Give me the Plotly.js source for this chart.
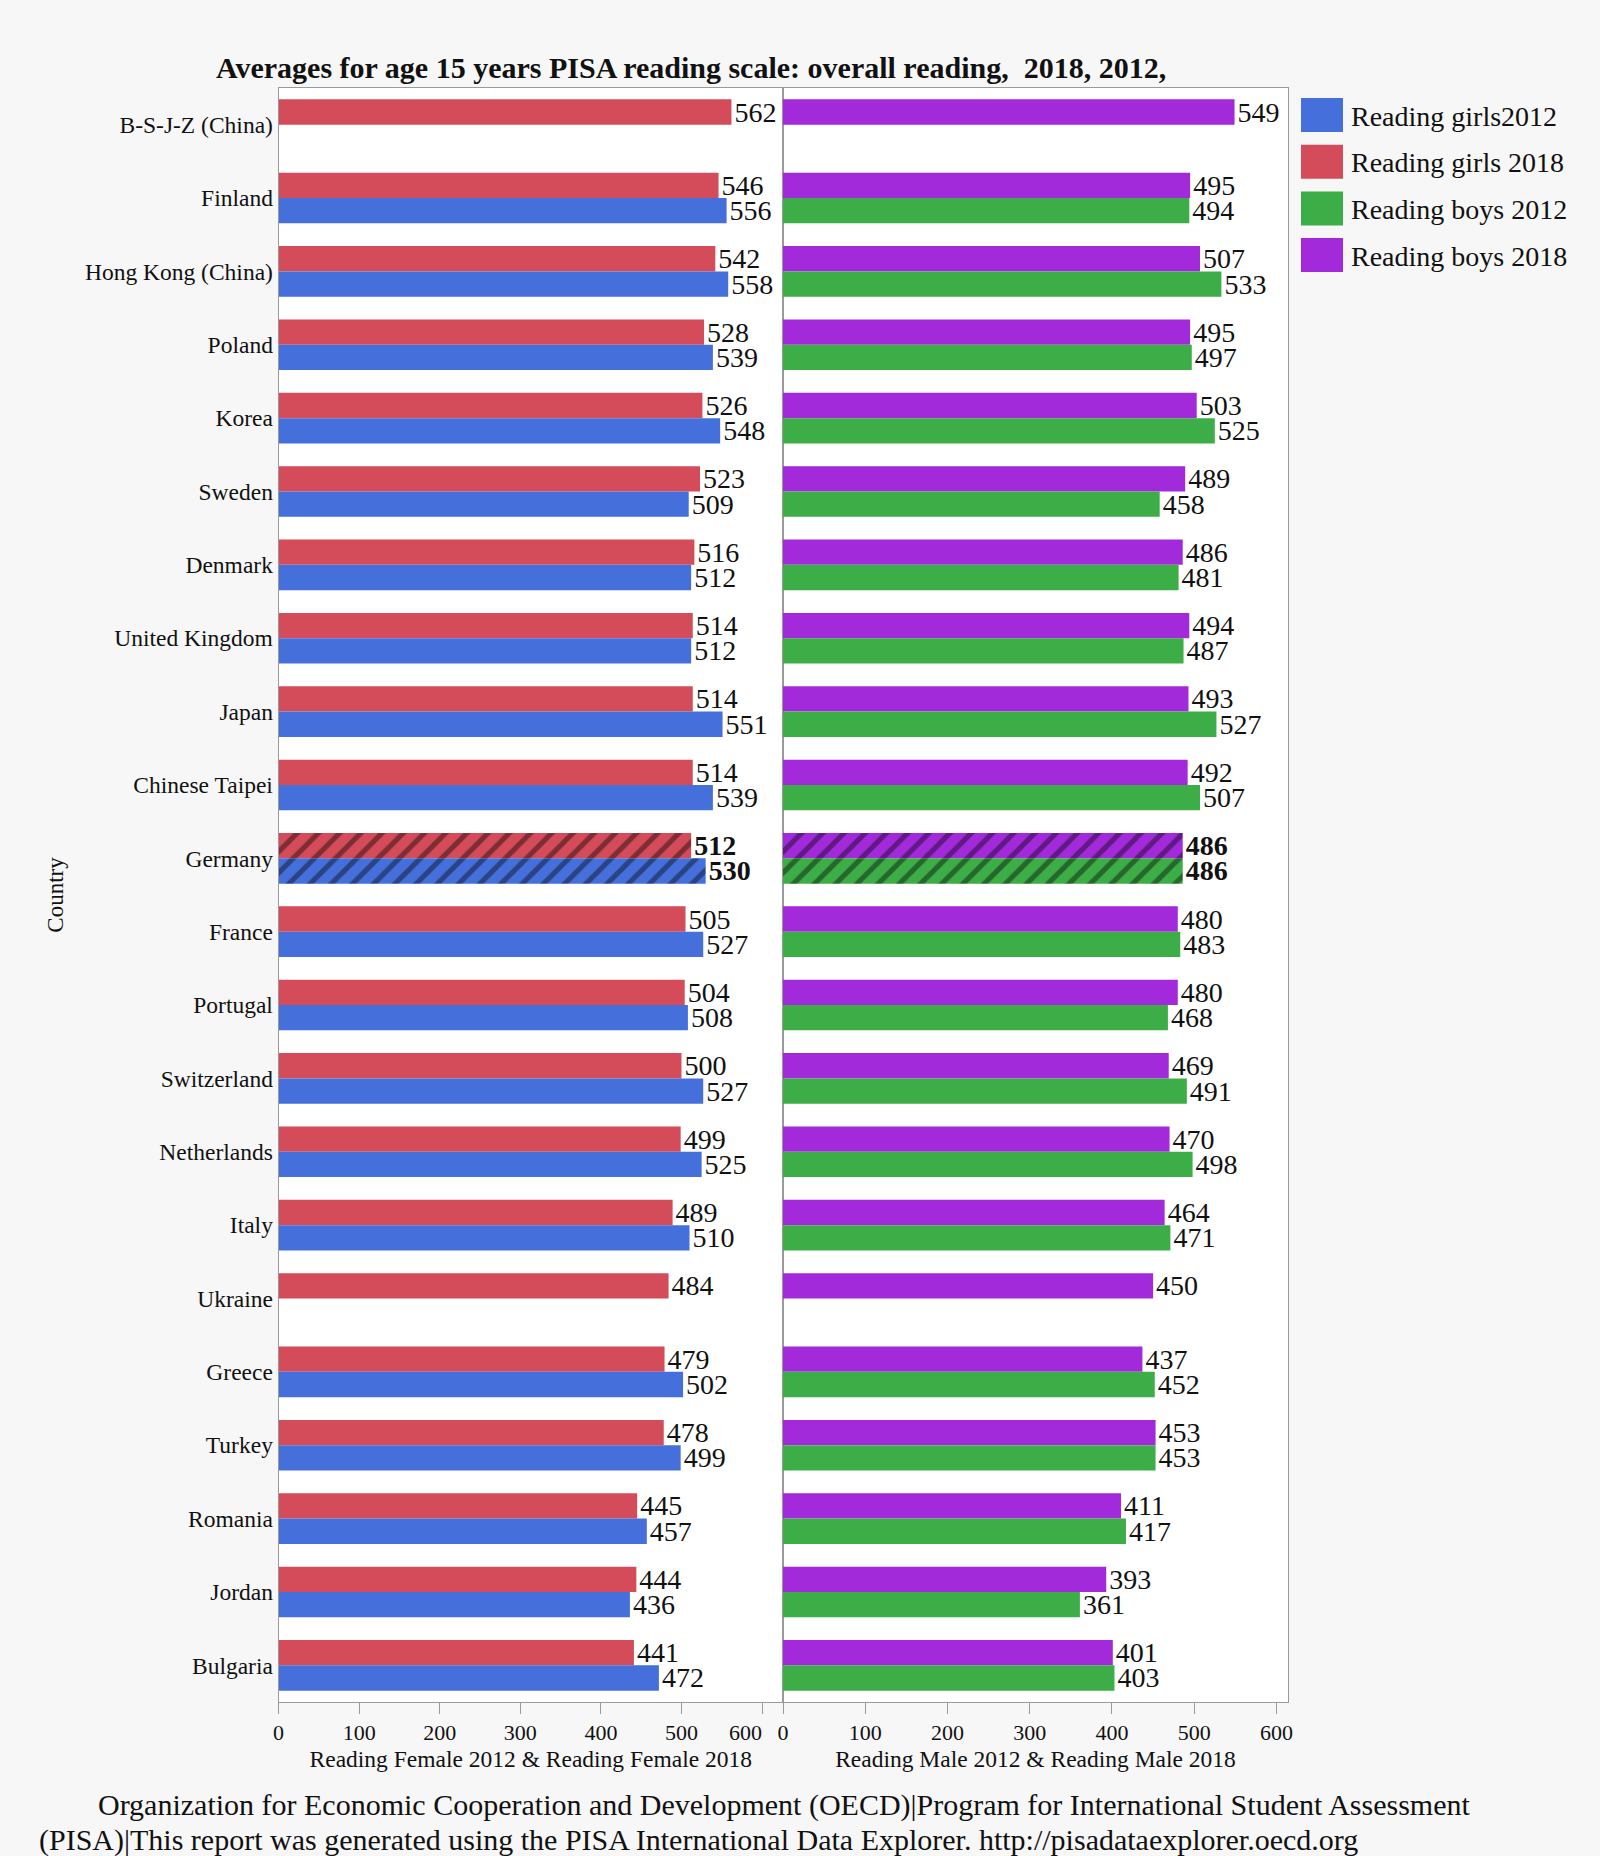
<!DOCTYPE html>
<html>
<head>
<meta charset="utf-8">
<script src="https://cdn.plot.ly/plotly-3.0.1.min.js"></script>
<style>
html,body{margin:0;padding:0;background:#f7f7f7;}
#chart{width:1600px;height:1856px;}
</style>
</head>
<body>
<div id="chart"></div>
<script>
// ---- data ----
const countries = ["B-S-J-Z (China)","Finland","Hong Kong (China)","Poland","Korea","Sweden","Denmark","United Kingdom","Japan","Chinese Taipei","Germany","France","Portugal","Switzerland","Netherlands","Italy","Ukraine","Greece","Turkey","Romania","Jordan","Bulgaria"];
const girls2018 = [562,546,542,528,526,523,516,514,514,514,512,505,504,500,499,489,484,479,478,445,444,441];
const girls2012 = [null,556,558,539,548,509,512,512,551,539,530,527,508,527,525,510,null,502,499,457,436,472];
const boys2018  = [549,495,507,495,503,489,486,494,493,492,486,480,480,469,470,464,450,437,453,411,393,401];
const boys2012  = [null,494,533,497,525,458,481,487,527,507,486,483,468,491,498,471,null,452,453,417,361,403];
const seriesNames = ["Reading girls2012","Reading girls 2018","Reading boys 2012","Reading boys 2018"];
const seriesColors = ["#4570DC","#D44B59","#3DAD47","#A22ADB"];
const tickValues = [0,100,200,300,400,500,600];
const highlightCountry = "Germany";
const xTitleLeft = "Reading Female 2012 & Reading Female 2018";
const xTitleRight = "Reading Male 2012 & Reading Male 2018";
const yTitle = "Country";
const chartTitle = "Averages for age 15 years PISA reading scale: overall reading,  2018, 2012,";
const footer1 = "Organization for Economic Cooperation and Development (OECD)|Program for International Student Assessment";
const footer2 = "(PISA)|This report was generated using the PISA International Data Explorer. http://pisadataexplorer.oecd.org";

// ---- layout helpers ----
const W = 1600, H = 1856;
const px = x => x / W;
const py = y => 1 - y / H;
const FONT = "Liberation Serif, Times New Roman, serif";

function labels(vals){
  return vals.map((v,i)=> v==null ? "" : (countries[i]===highlightCountry ? "<b>"+v+"</b>" : String(v)));
}
function makeTrace(vals, colorIdx, xa, ya){
  return {
    type:"bar", orientation:"h",
    y: countries, x: vals,
    xaxis: xa, yaxis: ya,
    name: seriesNames[colorIdx],
    text: labels(vals),
    textposition: "outside",
    constraintext: "none",
    cliponaxis: false,
    textfont: {family: FONT, size: 28, color: "#111"},
    marker: {
      color: seriesColors[colorIdx],
      line: {width: 0},
      pattern: {
        shape: countries.map(c => c===highlightCountry ? "/" : ""),
        fillmode: "overlay",
        fgcolor: "#000",
        fgopacity: 0.4,
        size: 15,
        solidity: 0.35
      }
    },
    hoverinfo: "x+y+name",
    showlegend: false
  };
}

const traces = [
  makeTrace(girls2018, 1, "x", "y"),
  makeTrace(girls2012, 0, "x", "y"),
  makeTrace(boys2018, 3, "x2", "y2"),
  makeTrace(boys2012, 2, "x2", "y2")
];

const yDomain = [py(1702), py(88)];
const leftDom = [px(278.6), px(783)];
const rightDom = [px(783), px(1288)];
const axisLine = "#9a9a9a";

const shapes = [];
const annotations = [];
// custom legend
seriesNames.forEach((n,i)=>{
  const top = 98 + 46.7*i;
  shapes.push({type:"rect", xref:"paper", yref:"paper", x0:px(1301), x1:px(1343), y0:py(top+34), y1:py(top), fillcolor:seriesColors[i], line:{width:0}});
  annotations.push({xref:"paper", yref:"paper", x:px(1349), y:py(top+18), xanchor:"left", yanchor:"middle", text:n, showarrow:false, font:{family:FONT, size:28, color:"#111"}});
});
// footer
annotations.push({xref:"paper", yref:"paper", x:px(96), y:py(1805), xanchor:"left", yanchor:"middle", text:footer1, showarrow:false, font:{family:FONT, size:30, color:"#111"}});
annotations.push({xref:"paper", yref:"paper", x:px(37), y:py(1840), xanchor:"left", yanchor:"middle", text:footer2, showarrow:false, font:{family:FONT, size:30, color:"#111"}});

const NB = "\u00a0";
const xCommon = {
  showline:true, mirror:true, linecolor:axisLine, linewidth:1,
  ticks:"outside", ticklen:11, tickcolor:axisLine,
  tickmode:"array", tickvals:tickValues,
  tickfont:{family:FONT, size:22, color:"#111"},
  showgrid:false, zeroline:false, automargin:false
};

const layout = {
  width:W, height:H,
  margin:{l:0,r:0,t:0,b:0},
  paper_bgcolor:"#f7f7f7",
  plot_bgcolor:"#ffffff",
  barmode:"group",
  bargap:0.31,
  bargroupgap:0,
  showlegend:false,
  title:{text:"<b>"+chartTitle+"</b>", x:px(216), xanchor:"left", xref:"paper", y:py(67), yanchor:"middle", yref:"paper", font:{family:FONT, size:30, color:"#111"}},
  xaxis: Object.assign({}, xCommon, {domain:leftDom, range:[0,626], anchor:"y",
    ticktext: tickValues.map((v,i)=> i===tickValues.length-1 ? String(v)+NB.repeat(6) : String(v)),
    title:{text:xTitleLeft, font:{family:FONT, size:23.5, color:"#111"}, standoff:6}}),
  xaxis2: Object.assign({}, xCommon, {domain:rightDom, range:[0,614], anchor:"y2",
    ticktext: tickValues.map(String),
    title:{text:xTitleRight, font:{family:FONT, size:23.5, color:"#111"}, standoff:6}}),
  yaxis: {domain:yDomain, type:"category", autorange:"reversed", anchor:"x",
    showline:true, mirror:true, linecolor:axisLine, ticks:"", showgrid:false, zeroline:false,
    tickfont:{family:FONT, size:23.5, color:"#111"}, automargin:false,
    title:{text:yTitle, font:{family:FONT, size:23, color:"#111"}, standoff:14}},
  yaxis2: {domain:yDomain, type:"category", matches:"y", anchor:"x2",
    showline:true, mirror:true, linecolor:axisLine, ticks:"", showgrid:false, zeroline:false,
    showticklabels:false, automargin:false},
  shapes: shapes,
  annotations: annotations
};

Plotly.newPlot("chart", traces, layout, {displayModeBar:false, staticPlot:true});
</script>
</body>
</html>
